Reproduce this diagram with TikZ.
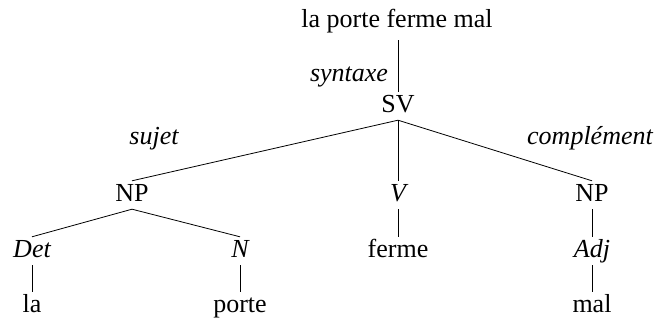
\documentclass[tikz,border=0pt]{standalone}
\usepackage{fontspec}
\newfontfamily\tms{LiberationSerif}[Extension=.ttf,UprightFont=*-Regular,ItalicFont=*-Italic,BoldFont=*-Bold]
\begin{document}
\begin{tikzpicture}[x=1pt,y=-1pt,
  w/.style={anchor=base,inner sep=1pt,text height=20pt,text depth=6pt,font=\tms\fontsize{26}{30}\selectfont},
  c/.style={w,font=\tms\fontsize{26}{30}\selectfont\itshape},
  lab/.style={anchor=base,inner sep=0pt,font=\tms\fontsize{26}{30}\selectfont\itshape},
  br/.style={line width=0.8pt}]
\useasboundingbox (0,0) rectangle (659,320);
\node[w,text depth=11pt] (top) at (397,28) {la porte ferme mal};
\node[w] (sv) at (398,113) {SV};
\node[w] (np1) at (132,202) {NP};
\node[c] (v) at (398,202) {V};
\node[w] (np2) at (592,202) {NP};
\node[c] (det) at (32,258) {Det};
\node[c] (n) at (240,258) {N};
\node[w] (ferme) at (398,258) {ferme};
\node[c] (adj) at (592,258) {Adj};
\node[w] (la) at (32,313) {la};
\node[w] (porte) at (240,313) {porte};
\node[w] (mal) at (592,313) {mal};
\node[lab] (syn) at (349,82) {syntaxe};
\node[lab] (suj) at (154,145) {sujet};
\node[lab] (comp) at (590,145) {complément};
\draw[br] (top.south -| sv) -- (sv.north);
\draw[br] (sv.south) -- (np1.north);
\draw[br] (sv.south) -- (v.north);
\draw[br] (sv.south) -- (np2.north);
\draw[br] (np1.south) -- (det.north);
\draw[br] (np1.south) -- (n.north);
\draw[br] (v.south) -- (ferme.north);
\draw[br] (np2.south) -- (adj.north);
\draw[br] (det.south) -- (la.north);
\draw[br] (n.south) -- (porte.north);
\draw[br] (adj.south) -- (mal.north);
\end{tikzpicture}
\end{document}
